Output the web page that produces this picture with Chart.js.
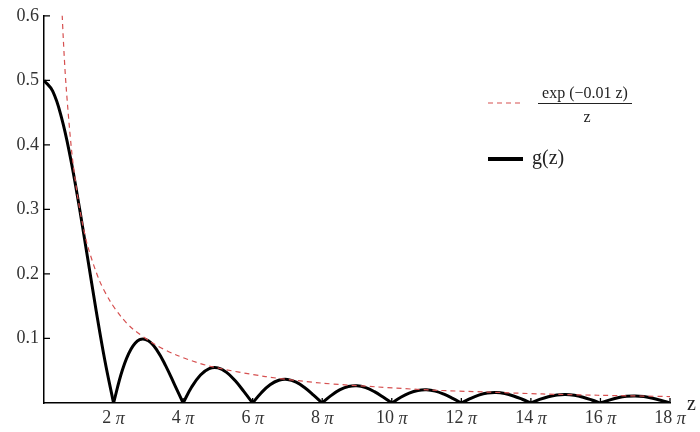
<!DOCTYPE html>
<html>
<head>
<meta charset="utf-8">
<script src="https://cdn.jsdelivr.net/npm/chart.js@4"></script>
<style>
  html, body { margin: 0; padding: 0; background: #fff; }
  #wrap { width: 700px; height: 432px; }
</style>
</head>
<body>
<div id="wrap"><canvas id="plot"></canvas></div>
<script>
// g(z) read every pi/4 from 0 to 18 pi
const gValues = [
  0.5, 0.4834, 0.4431, 0.3830, 0.3085, 0.2262, 0.1431, 0.0659,
  0, 0.0504, 0.0832, 0.0981, 0.0966, 0.0817, 0.0576, 0.0289,
  0, 0.0251, 0.0434, 0.0533, 0.0544, 0.0475, 0.0344, 0.0177,
  0, 0.0160, 0.0282, 0.0352, 0.0365, 0.0323, 0.0237, 0.0123,
  0, 0.0114, 0.0203, 0.0255, 0.0267, 0.0238, 0.0176, 0.0092,
  0, 0.0086, 0.0154, 0.0195, 0.0205, 0.0184, 0.0136, 0.0072,
  0, 0.0068, 0.0122, 0.0155, 0.0163, 0.0146, 0.0109, 0.0058,
  0, 0.0055, 0.0098, 0.0125, 0.0133, 0.0119, 0.0089, 0.0047,
  0, 0.0045, 0.0081, 0.0104, 0.0110, 0.0099, 0.0074, 0.0039,
  0
];
const gStep = Math.PI / 4;

// dashed envelope exp(-0.01 z)/z
const envZ = [1.5, 1.75, 2, 2.5, 3, 3.5, 4, 5, 6, 7, 8, 10, 12, 15, 20, 25, 30, 35, 40, 45, 50, 56.55];
const envValues = [0.657, 0.562, 0.490, 0.390, 0.324, 0.276, 0.240, 0.190, 0.157, 0.133, 0.115,
  0.091, 0.074, 0.057, 0.041, 0.031, 0.025, 0.020, 0.017, 0.014, 0.012, 0.010];

const xTickMultiples = [2, 4, 6, 8, 10, 12, 14, 16, 18];
const yTicks = [0.1, 0.2, 0.3, 0.4, 0.5, 0.6];

const serif = "'Liberation Serif', 'DejaVu Serif', serif";

// split g into arches so the zeros stay sharp
const arches = [];
let cur = [];
gValues.forEach((v, i) => {
  cur.push({ x: i * gStep, y: v });
  if (v === 0 && i > 0) {
    arches.push(cur);
    cur = [{ x: i * gStep, y: v }];
  }
});
if (cur.length > 1) arches.push(cur);

const datasets = [{
  data: envZ.map((z, i) => ({ x: z, y: envValues[i] })),
  borderColor: "rgb(214,80,80)",
  borderWidth: 1.2,
  borderDash: [5, 4],
  pointRadius: 0,
  tension: 0.3,
  fill: false,
}];
arches.forEach((a) => {
  datasets.push({
    data: a,
    borderColor: "#000",
    borderWidth: 3,
    pointRadius: 0,
    tension: 0.4,
    fill: false,
  });
});

// inward tick marks, tick labels with italic pi, legend and the z label
const extras = {
  id: "extras",
  afterDraw(chart) {
    const ctx = chart.ctx;
    const xs = chart.scales.x;
    const ys = chart.scales.y;
    const area = chart.chartArea;
    ctx.save();
    ctx.strokeStyle = "#000";
    ctx.lineWidth = 1.3;
    ctx.beginPath();
    xTickMultiples.forEach((m) => {
      const px = xs.getPixelForValue(m * Math.PI);
      ctx.moveTo(px, area.bottom);
      ctx.lineTo(px, area.bottom - 5);
    });
    yTicks.forEach((t) => {
      const py = ys.getPixelForValue(t);
      ctx.moveTo(area.left, py);
      ctx.lineTo(area.left + 6, py);
    });
    ctx.stroke();

    // x tick labels
    ctx.fillStyle = "#333";
    ctx.textBaseline = "middle";
    ctx.textAlign = "left";
    const numFont = "18px " + serif;
    const piFont = "italic 18px " + serif;
    xTickMultiples.forEach((m) => {
      const px = xs.getPixelForValue(m * Math.PI);
      const num = m + " ";
      ctx.font = numFont;
      const w1 = ctx.measureText(num).width;
      ctx.font = piFont;
      const w2 = ctx.measureText("\u03c0").width;
      const x0 = px - (w1 + w2) / 2;
      ctx.font = numFont;
      ctx.fillText(num, x0, area.bottom + 15);
      ctx.font = piFont;
      ctx.fillText("\u03c0", x0 + w1, area.bottom + 16);
    });

    // axis name
    ctx.fillStyle = "#222";
    ctx.font = "20px " + serif;
    ctx.fillText("z", 687, 405);

    // legend: dashed entry
    ctx.strokeStyle = "rgb(214,80,80)";
    ctx.lineWidth = 1.2;
    ctx.setLineDash([5, 4]);
    ctx.beginPath();
    ctx.moveTo(488, 103);
    ctx.lineTo(522, 103);
    ctx.stroke();
    ctx.setLineDash([]);

    ctx.fillStyle = "#222";
    ctx.font = "16px " + serif;
    ctx.textAlign = "center";
    ctx.textBaseline = "alphabetic";
    ctx.fillText("exp (\u22120.01 z)", 585, 98);
    ctx.strokeStyle = "#222";
    ctx.lineWidth = 1;
    ctx.beginPath();
    ctx.moveTo(538, 103.5);
    ctx.lineTo(632, 103.5);
    ctx.stroke();
    ctx.textBaseline = "middle";
    ctx.fillText("z", 587, 118);

    // legend: solid entry
    ctx.strokeStyle = "#000";
    ctx.lineWidth = 4;
    ctx.beginPath();
    ctx.moveTo(488, 159);
    ctx.lineTo(523, 159);
    ctx.stroke();
    ctx.font = "20px " + serif;
    ctx.textAlign = "left";
    ctx.fillText("g(z)", 532, 159);
    ctx.restore();
  },
};

new Chart(document.getElementById("plot"), {
  type: "line",
  data: { datasets: datasets },
  options: {
    responsive: true,
    maintainAspectRatio: false,
    animation: false,
    layout: { padding: { top: 13, right: 30, left: 0, bottom: 0 } },
    plugins: { legend: { display: false }, tooltip: { enabled: false } },
    scales: {
      x: {
        type: "linear",
        min: 0,
        max: 18 * Math.PI,
        grid: { display: false, drawTicks: false },
        border: { display: true, color: "#000", width: 1.5 },
        afterBuildTicks: (scale) => {
          scale.ticks = xTickMultiples.map((m) => ({ value: m * Math.PI }));
        },
        afterFit: (scale) => { scale.height = 29; },
        ticks: { display: false },
      },
      y: {
        type: "linear",
        min: 0,
        max: 0.6,
        grid: { display: false, drawTicks: false },
        border: { display: true, color: "#000", width: 1.5 },
        afterBuildTicks: (scale) => {
          scale.ticks = yTicks.map((t) => ({ value: t }));
        },
        afterFit: (scale) => { scale.width = 44; },
        ticks: {
          padding: 5,
          color: "#333",
          font: { family: serif, size: 18 },
          callback: (v) => v.toFixed(1),
        },
      },
    },
  },
  plugins: [extras],
});
</script>
</body>
</html>
